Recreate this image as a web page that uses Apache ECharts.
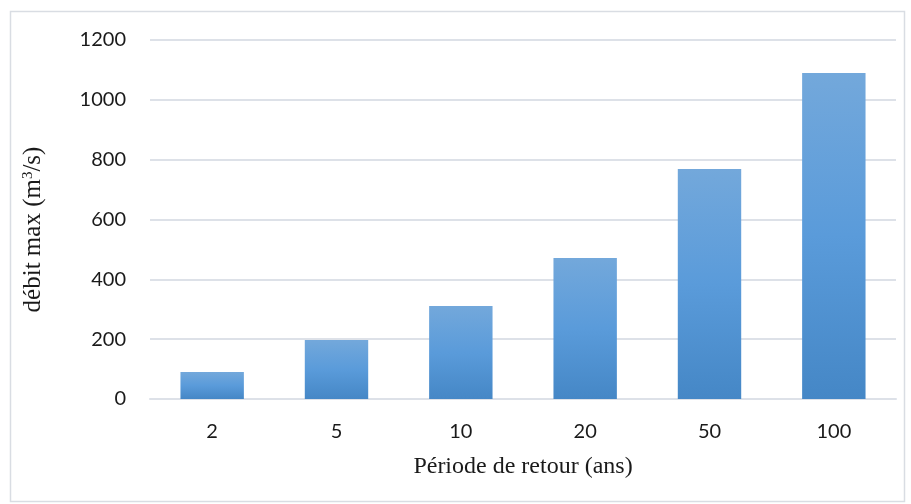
<!DOCTYPE html>
<html><head><meta charset="utf-8">
<script src="https://cdn.jsdelivr.net/npm/echarts@6/dist/echarts.min.js"></script>
<style>html,body{margin:0;padding:0;background:#fff}#c{width:911px;height:504px}</style>
</head><body><div id="c"></div>
<script>
const categories = ['2', '5', '10', '20', '50', '100'];
const values = [90, 197, 311, 471, 769, 1090];
const yTicks = [0, 200, 400, 600, 800, 1000, 1200];

const chart = echarts.init(document.getElementById('c'));
chart.setOption({
  animation: false,
  graphic: [{type:'rect', shape:{x:10.5,y:11.5,width:894,height:490}, style:{fill:'none', stroke:'#d9dde3', lineWidth:1.5}, z:-1}],
  grid: {left:150, right:15, top:40, bottom:105, containLabel:false},
  xAxis: {
    type:'category', data:categories,
    axisLine:{show:true, lineStyle:{color:'#dde1e8', width:2}},
    axisTick:{show:false},
    axisLabel:{fontFamily:'Lato', fontSize:20, color:'#1a1a1a', margin:23},
    name:'Période de retour (ans)', nameLocation:'middle', nameGap:56,
    nameTextStyle:{fontFamily:'Liberation Serif', fontSize:24, color:'#1a1a1a'}
  },
  yAxis: {
    type:'value', min:yTicks[0], max:yTicks[yTicks.length-1], interval:200,
    axisLine:{show:false}, axisTick:{show:false},
    splitLine:{lineStyle:{color:'#dde1e8', width:2}},
    axisLabel:{fontFamily:'Lato', fontSize:20, color:'#1a1a1a', margin:24, formatter:v=>String(v)},
    name:'débit max (m{s|3}/s)', nameLocation:'middle', nameGap:104, nameRotate:90,
    nameTextStyle:{fontFamily:'Liberation Serif', fontSize:25, color:'#1a1a1a', padding:[0,20,0,0],
      rich:{s:{fontFamily:'Liberation Serif', fontSize:15, verticalAlign:'top', padding:[0,0,10,0], color:'#1a1a1a'}}}
  },
  series: [{
    type:'bar', data:values, barCategoryGap:'49%',
    itemStyle:{color:new echarts.graphic.LinearGradient(0,0,0,1,[
      {offset:0, color:'#73a8db'},
      {offset:0.5, color:'#5a9bda'},
      {offset:1, color:'#4587c6'}])}
  }]
});
</script></body></html>
